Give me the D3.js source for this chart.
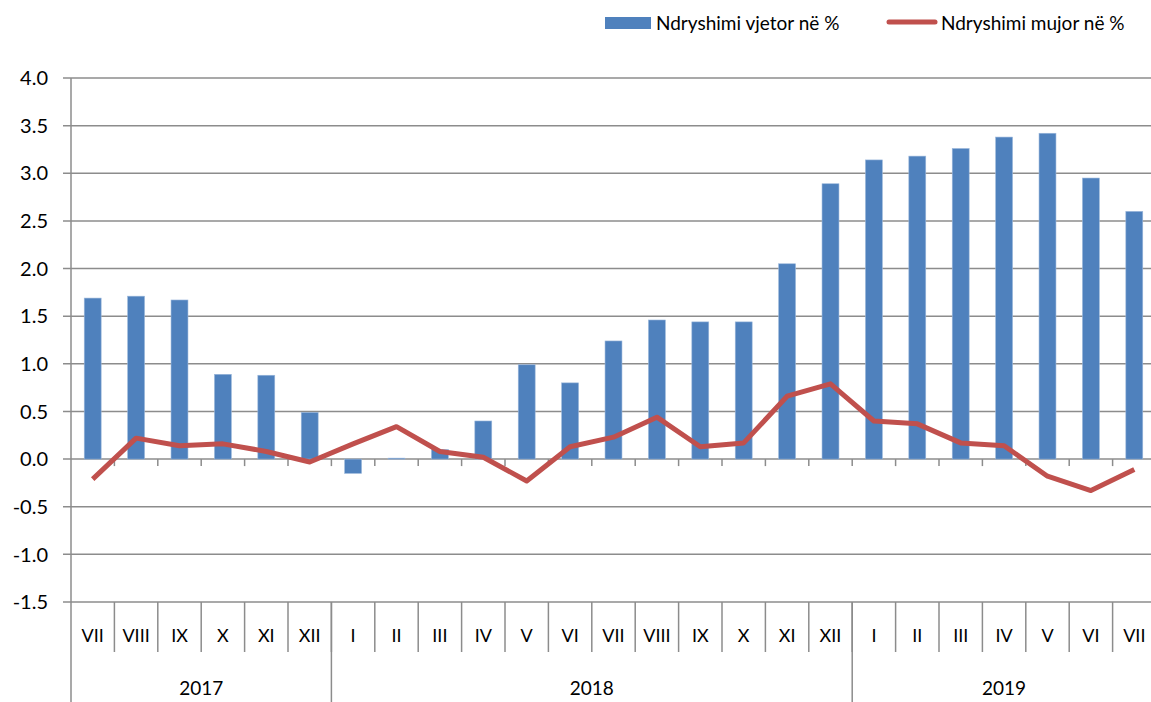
<!doctype html>
<html>
  <head>
    <meta charset="utf-8">
    <title>Ndryshimi vjetor dhe mujor</title>
    <script src="https://cdnjs.cloudflare.com/ajax/libs/d3/7.8.5/d3.min.js"></script>
    <style>
      body { margin: 0; background: #fff; }
      text { font-family: Lato, "Open Sans", sans-serif; fill: #000; }
    </style>
  </head>
  <body>
    <div id="chart"></div>
    <script>
      // data
      const months = ['VII','VIII','IX','X','XI','XII',
                      'I','II','III','IV','V','VI','VII','VIII','IX','X','XI','XII',
                      'I','II','III','IV','V','VI','VII'];
      const years = [{label: '2017', n: 6}, {label: '2018', n: 12}, {label: '2019', n: 7}];
      const vjetor = [1.69, 1.71, 1.67, 0.89, 0.88, 0.49,
                      -0.15, 0.01, 0.10, 0.40, 0.99, 0.80, 1.24, 1.46, 1.44, 1.44, 2.05, 2.89,
                      3.14, 3.18, 3.26, 3.38, 3.42, 2.95, 2.60];
      const mujor = [-0.21, 0.22, 0.14, 0.16, 0.08, -0.03,
                     0.16, 0.34, 0.08, 0.02, -0.23, 0.13, 0.23, 0.44, 0.13, 0.17, 0.66, 0.79,
                     0.40, 0.37, 0.17, 0.14, -0.18, -0.33, -0.11];
      const yTicks = [-1.5, -1.0, -0.5, 0, 0.5, 1.0, 1.5, 2.0, 2.5, 3.0, 3.5, 4.0];

      const W = 1151, H = 702;
      const left = 71, step = 43.4;
      const idx = months.map((d, i) => i);

      const svg = d3.select('#chart').append('svg')
        .attr('width', W).attr('height', H);

      const x = d3.scaleBand().domain(idx).range([left, left + step * months.length])
        .paddingInner(0.61).paddingOuter(0.305);
      const y = d3.scaleLinear().domain([-1.5, 4.0]).range([602, 78]);

      // gridlines + y labels
      svg.append('g').selectAll('line').data(yTicks).join('line')
        .attr('x1', left - 8).attr('x2', W)
        .attr('y1', d => y(d)).attr('y2', d => y(d))
        .attr('stroke', '#8c8c8c').attr('stroke-width', 1.5);

      svg.append('g').selectAll('text').data(yTicks).join('text')
        .attr('x', 48).attr('y', d => y(d)).attr('dy', '0.36em')
        .attr('text-anchor', 'end').style('font-size', '20px')
        .text(d => d.toFixed(1));

      // y axis line
      svg.append('line')
        .attr('x1', left).attr('x2', left).attr('y1', y(4)).attr('y2', H)
        .attr('stroke', '#8c8c8c').attr('stroke-width', 1.5);

      // bars
      svg.append('g').selectAll('rect').data(vjetor).join('rect')
        .attr('x', (d, i) => x(i))
        .attr('width', x.bandwidth())
        .attr('y', d => y(Math.max(0, d)))
        .attr('height', d => Math.max(1, Math.abs(y(d) - y(0))))
        .attr('fill', '#4F81BD')
        .attr('stroke', '#9bb7db').attr('stroke-width', 0.6);

      // minor ticks on zero line
      svg.append('g').selectAll('line').data(d3.range(1, months.length)).join('line')
        .attr('x1', d => left + d * step).attr('x2', d => left + d * step)
        .attr('y1', y(0)).attr('y2', y(0) + 7)
        .attr('stroke', '#8c8c8c').attr('stroke-width', 1.5);

      // line
      const line = d3.line()
        .x((d, i) => x(i) + x.bandwidth() / 2)
        .y(d => y(d));
      svg.append('path').datum(mujor)
        .attr('d', line)
        .attr('fill', 'none')
        .attr('stroke', '#C0504D')
        .attr('stroke-width', 5)
        .attr('stroke-linejoin', 'round');

      // category axis: month separators and labels
      svg.append('g').selectAll('line').data(d3.range(1, months.length + 1)).join('line')
        .attr('x1', d => left + d * step).attr('x2', d => left + d * step)
        .attr('y1', y(-1.5)).attr('y2', 652)
        .attr('stroke', '#8c8c8c').attr('stroke-width', 1.5);

      svg.append('g').selectAll('text').data(months).join('text')
        .attr('x', (d, i) => left + (i + 0.5) * step)
        .attr('y', 636).attr('dy', '0.36em')
        .attr('text-anchor', 'middle').style('font-size', '18px')
        .text(d => d);

      // year groups
      let start = 0;
      years.forEach(yr => {
        const x0 = left + start * step, x1 = left + (start + yr.n) * step;
        if (start > 0) {
          svg.append('line')
            .attr('x1', x0).attr('x2', x0).attr('y1', y(-1.5)).attr('y2', H)
            .attr('stroke', '#8c8c8c').attr('stroke-width', 1.5);
        }
        svg.append('text')
          .attr('x', (x0 + x1) / 2).attr('y', 688).attr('dy', '0.36em')
          .attr('text-anchor', 'middle').style('font-size', '19px')
          .text(yr.label);
        start += yr.n;
      });

      // legend
      const lg = svg.append('g');
      lg.append('rect').attr('x', 605).attr('y', 17).attr('width', 46).attr('height', 12)
        .attr('fill', '#4F81BD');
      lg.append('text').attr('x', 656).attr('y', 23).attr('dy', '0.36em')
        .style('font-size', '19px').text('Ndryshimi vjetor në %');
      lg.append('line').attr('x1', 889).attr('x2', 935).attr('y1', 22).attr('y2', 22)
        .attr('stroke', '#C0504D').attr('stroke-width', 5).attr('stroke-linecap', 'round');
      lg.append('text').attr('x', 941).attr('y', 23).attr('dy', '0.36em')
        .style('font-size', '19px').text('Ndryshimi mujor në %');
    </script>
  </body>
</html>
